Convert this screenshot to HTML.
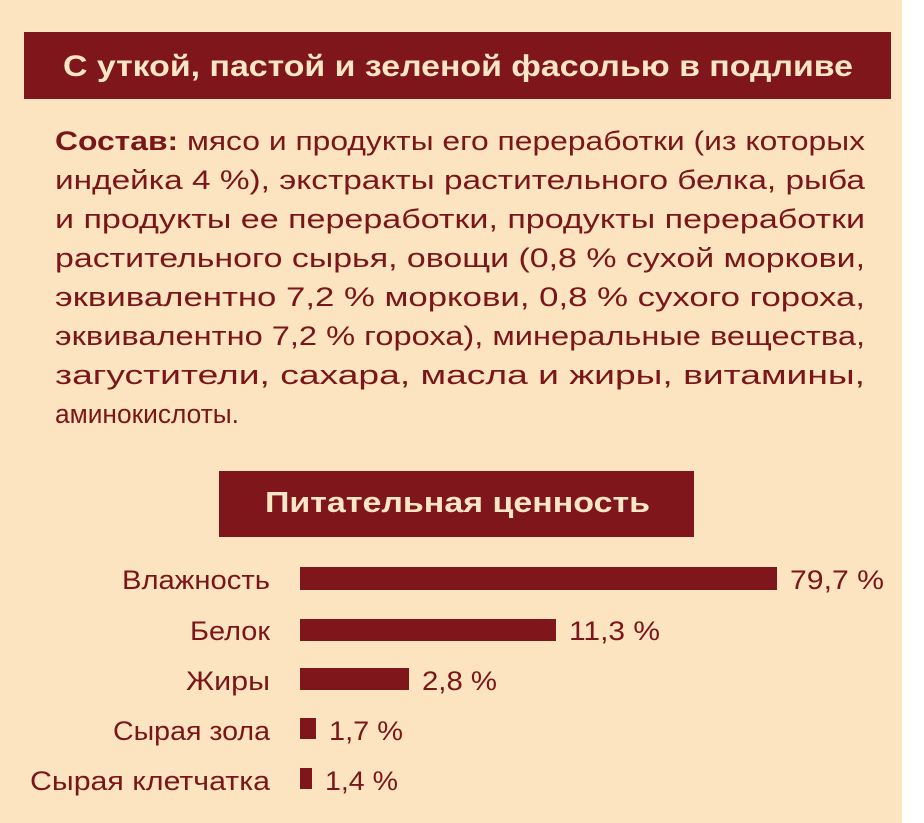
<!DOCTYPE html>
<html><head><meta charset="utf-8"><style>
html,body{margin:0;padding:0;background:#fff}
svg{display:block}
text{font-family:"Liberation Sans","DejaVu Sans",sans-serif;fill:#7a1519}
</style></head><body>
<svg width="924" height="823" viewBox="0 0 924 823" xmlns="http://www.w3.org/2000/svg">
<rect x="0" y="0" width="902" height="823" fill="#fce4c0"/>
<rect x="24" y="32" width="867" height="67" fill="#7f161c"/>
<text x="63" y="76" font-size="30" font-weight="bold" style="fill:#fde6c6" textLength="790" lengthAdjust="spacingAndGlyphs">С уткой, пастой и зеленой фасолью в подливе</text>
<g font-size="27">
<text x="55" y="150" textLength="810" lengthAdjust="spacingAndGlyphs"><tspan font-weight="bold">Состав:</tspan> мясо и продукты его переработки (из которых</text>
<text x="55" y="189" textLength="810" lengthAdjust="spacingAndGlyphs">индейка 4 %), экстракты растительного белка, рыба</text>
<text x="55" y="228" textLength="810" lengthAdjust="spacingAndGlyphs">и продукты ее переработки, продукты переработки</text>
<text x="55" y="267" textLength="810" lengthAdjust="spacingAndGlyphs">растительного сырья, овощи (0,8 % сухой моркови,</text>
<text x="55" y="306" textLength="810" lengthAdjust="spacingAndGlyphs">эквивалентно 7,2 % моркови, 0,8 % сухого гороха,</text>
<text x="55" y="345" textLength="810" lengthAdjust="spacingAndGlyphs">эквивалентно 7,2 % гороха), минеральные вещества,</text>
<text x="55" y="384" textLength="810" lengthAdjust="spacingAndGlyphs">загустители, сахара, масла и жиры, витамины,</text>
<text x="55" y="423" font-size="27" textLength="184" lengthAdjust="spacingAndGlyphs">аминокислоты.</text>
</g>
<rect x="219" y="471" width="475" height="66" fill="#7f161c"/>
<text x="265" y="512" font-size="29" font-weight="bold" style="fill:#fde6c6" textLength="385" lengthAdjust="spacingAndGlyphs">Питательная ценность</text>
<g fill="#7f161c">
<rect x="300" y="567" width="477" height="23"/>
<rect x="300" y="619" width="256" height="22"/>
<rect x="300" y="668" width="109" height="22"/>
<rect x="300" y="718" width="16" height="21"/>
<rect x="300" y="768" width="12" height="21"/>
</g>
<g font-size="27">
<text x="122" y="589" textLength="148" lengthAdjust="spacingAndGlyphs">Влажность</text>
<text x="190" y="640" textLength="80" lengthAdjust="spacingAndGlyphs">Белок</text>
<text x="186" y="690" textLength="84" lengthAdjust="spacingAndGlyphs">Жиры</text>
<text x="113" y="740" textLength="157" lengthAdjust="spacingAndGlyphs">Сырая зола</text>
<text x="30" y="790" textLength="240" lengthAdjust="spacingAndGlyphs">Сырая клетчатка</text>
</g>
<g font-size="27">
<text x="790" y="589" textLength="94" lengthAdjust="spacingAndGlyphs">79,7 %</text>
<text x="569" y="640" textLength="91" lengthAdjust="spacingAndGlyphs">11,3 %</text>
<text x="422" y="690" textLength="75" lengthAdjust="spacingAndGlyphs">2,8 %</text>
<text x="329" y="740" textLength="74" lengthAdjust="spacingAndGlyphs">1,7 %</text>
<text x="325" y="790" textLength="73" lengthAdjust="spacingAndGlyphs">1,4 %</text>
</g>
</svg>
</body></html>
